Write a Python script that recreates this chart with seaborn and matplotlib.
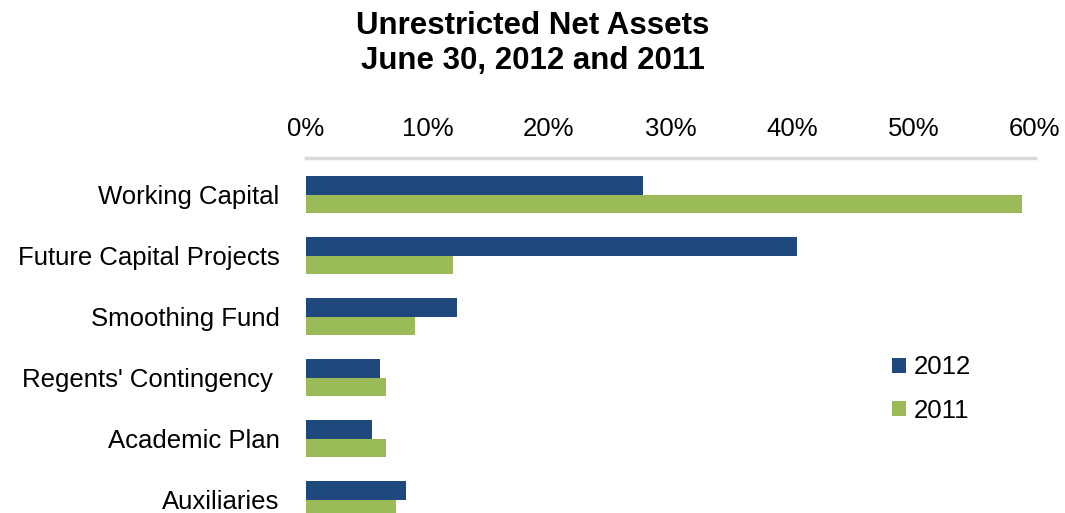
import matplotlib
matplotlib.use("Agg")
import matplotlib.pyplot as plt
import seaborn as sns
import pandas as pd

# Chart data
categories = ["Working Capital", "Future Capital Projects", "Smoothing Fund",
              "Regents' Contingency ", "Academic Plan", "Auxiliaries"]
years = ["2012", "2011"]
values_2012 = [27.7, 40.4, 12.4, 6.1, 5.4, 8.2]
values_2011 = [58.9, 12.1, 9.0, 6.6, 6.6, 7.4]
xtick_values = [0, 10, 20, 30, 40, 50, 60]
xtick_labels = [f"{v}%" for v in xtick_values]

colors = {"2012": "#1F497D", "2011": "#9BBB59"}

sns.set_theme(style="white")
plt.rcParams["font.family"] = ["Liberation Sans", "DejaVu Sans"]
plt.rcParams["text.color"] = "black"

df = pd.DataFrame({
    "category": categories * 2,
    "year": ["2012"] * len(categories) + ["2011"] * len(categories),
    "value": values_2012 + values_2011,
})

fig = plt.figure(figsize=(10.65, 5.13), dpi=100)
ax = fig.add_axes([306 / 1065, 0.0, (1035 - 306) / 1065, 1 - 158 / 513])

sns.barplot(data=df, x="value", y="category", hue="year", hue_order=years,
            order=categories, palette=colors, orient="h", width=0.6,
            saturation=1, linewidth=0, ax=ax, legend=True)

ax.set_xlim(0, 60)
ax.set_ylim(5.22, -0.6)
ax.xaxis.tick_top()
ax.set_xticks(xtick_values)
ax.set_xticklabels(xtick_labels)
ax.set_xlabel("")
ax.set_ylabel("")
ax.tick_params(axis="x", length=0, pad=12, labelsize=18.5, colors="black")
ax.tick_params(axis="y", length=0, pad=19, labelsize=18.5, colors="black")

for side in ["bottom", "left", "right"]:
    ax.spines[side].set_visible(False)
ax.spines["top"].set_color("#D9D9D9")
ax.spines["top"].set_linewidth(2.5)

# Legend on the right side
handles, labels = ax.get_legend_handles_labels()
ax.get_legend().remove()
fig.legend(handles, labels, loc="center left",
           bbox_to_anchor=(882 / 1065, 1 - 389 / 513),
           frameon=False, fontsize=18.5, handlelength=0.55, handleheight=0.55,
           handletextpad=0.3, labelspacing=0.75, borderaxespad=0)

fig.suptitle("Unrestricted Net Assets\nJune 30, 2012 and 2011",
             x=0.5, y=1 - 11 / 513, va="top", fontsize=22.5, fontweight="bold",
             linespacing=1.2, color="black")

fig.savefig("out.png", dpi=100)
